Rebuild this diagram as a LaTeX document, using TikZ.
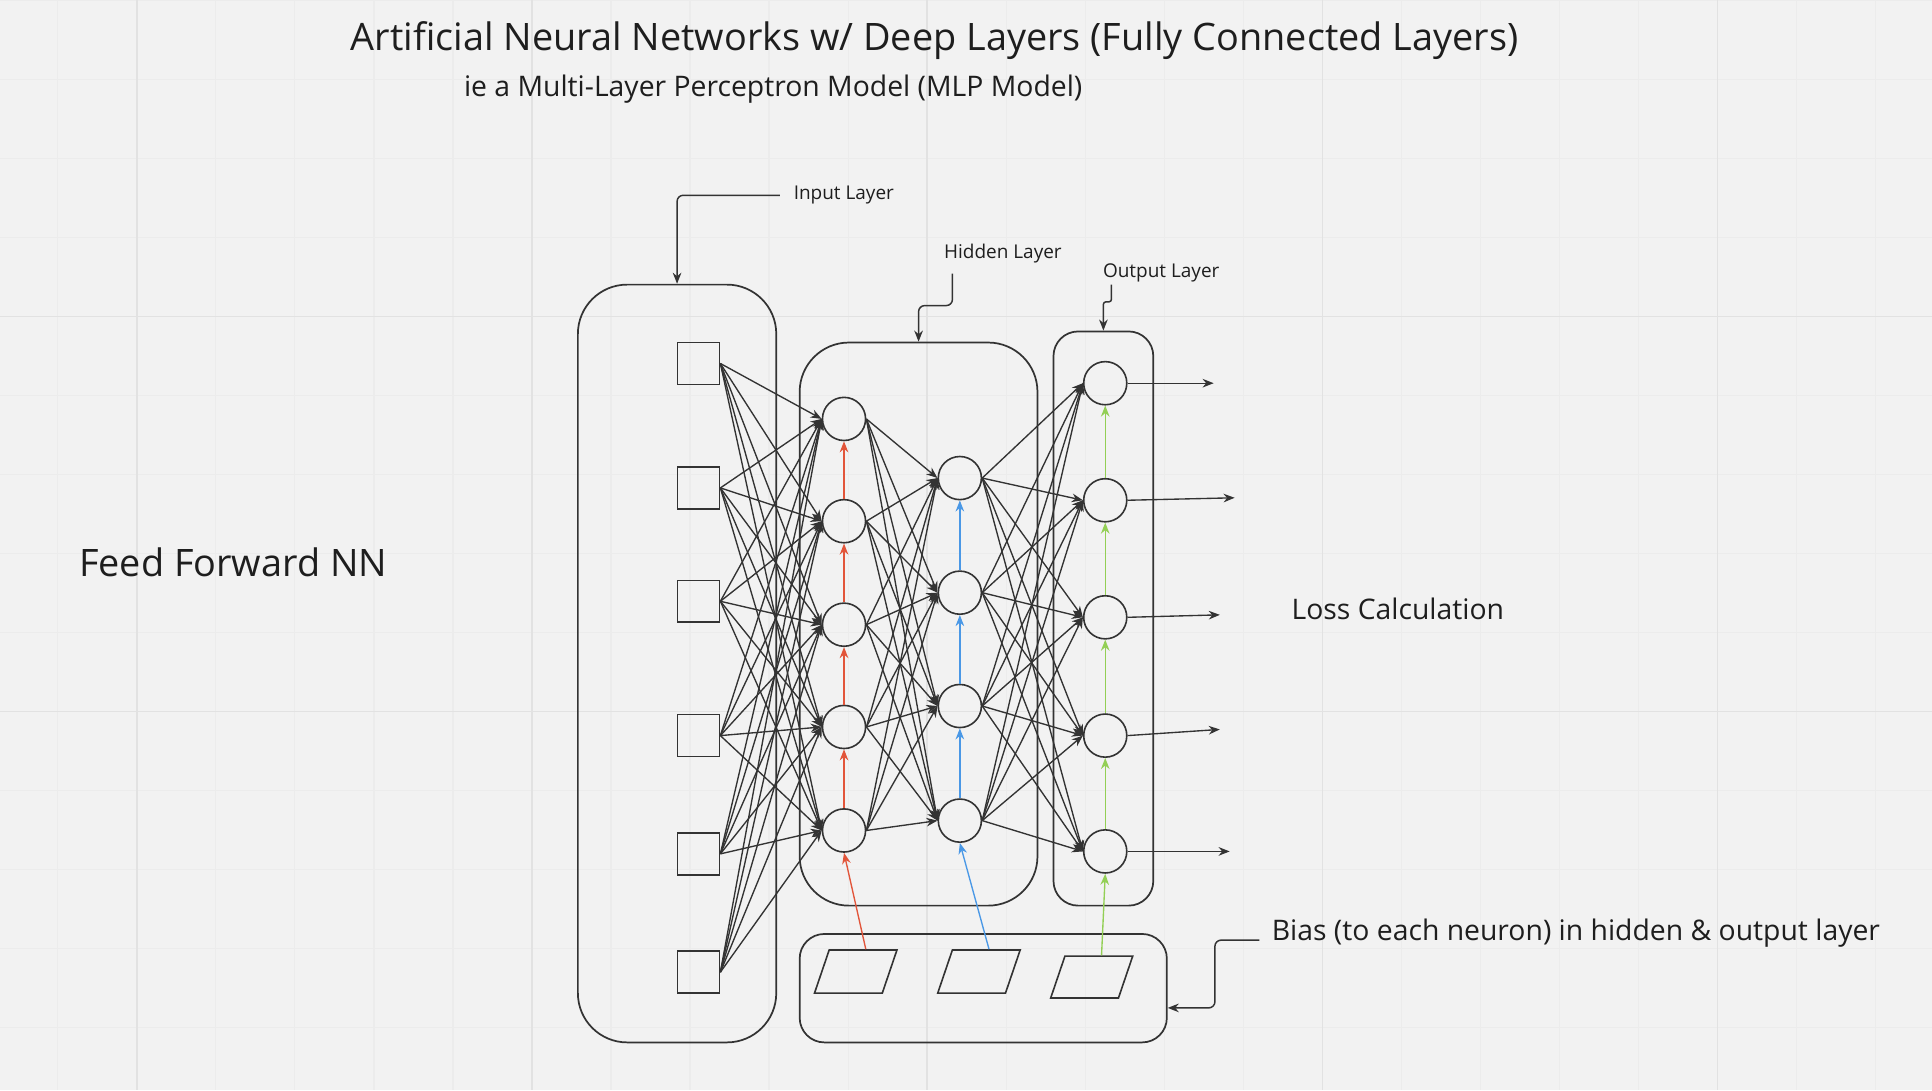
\documentclass[tikz,border=0pt]{standalone}
\usepackage{fontspec}
\setmainfont{Open Sans}
\usetikzlibrary{arrows.meta,calc}
\definecolor{bg}{HTML}{F2F2F2}
\definecolor{ink}{HTML}{333333}
\definecolor{txt}{HTML}{1E1E1E}
\definecolor{minorg}{HTML}{ECECEC}
\definecolor{majorg}{HTML}{E2E2E2}
\definecolor{bred}{HTML}{E2553A}
\definecolor{bblue}{HTML}{4A98E6}
\definecolor{bgreen}{HTML}{93CF55}
\tikzset{
  cont/.style={draw=ink, line width=1.4pt, inner sep=0pt},
  sq/.style={draw=ink, line width=1.3pt, minimum size=34pt, inner sep=0pt},
  neuron/.style={circle, draw=ink, line width=1.3pt, minimum size=35pt, inner sep=0pt},
  para/.style={draw=ink, line width=1.3pt, minimum width=55pt, minimum height=35pt, inner sep=0pt, xslant=0.34, transform shape},
  edge/.style={draw=ink, line width=1.1pt, -{Stealth[length=9pt,width=7pt]}},
  biasr/.style={draw=bred, line width=1.1pt, -{Stealth[length=9pt,width=7pt]}},
  biasb/.style={draw=bblue, line width=1.1pt, -{Stealth[length=9pt,width=7pt]}},
  biasg/.style={draw=bgreen, line width=1.1pt, -{Stealth[length=9pt,width=7pt]}},
  callout/.style={draw=ink, line width=1.2pt, rounded corners=5pt, -{Stealth[length=9pt,width=7pt]}},
  lbl/.style={text=txt, inner sep=0pt},
}
\begin{document}
\begin{tikzpicture}[x=1pt,y=-1pt]
\useasboundingbox (0,0) rectangle (1568,885);
\fill[bg] (0,0) rectangle (1568,885);
% grid
\foreach \k in {-1,...,23} {\draw[minorg, line width=1pt] ({111+64.15*\k},0) -- ({111+64.15*\k},885);}
\foreach \k in {-4,...,10} {\draw[minorg, line width=1pt] (0,{257+64.1*\k}) -- (1568,{257+64.1*\k});}
\foreach \k in {0,...,4} {\draw[majorg, line width=1.3pt] ({111+320.75*\k},0) -- ({111+320.75*\k},885);}
\foreach \k in {0,1} {\draw[majorg, line width=1.3pt] (0,{257+320.5*\k}) -- (1568,{257+320.5*\k});}

% texts
\node[lbl, font=\fontsize{30.7}{36}\selectfont] (title) at (758.5,33) {Artificial Neural Networks w/ Deep Layers (Fully Connected Layers)};
\node[lbl, font=\fontsize{23}{28}\selectfont] (sub) at (627.5,72.5) {ie a Multi-Layer Perceptron Model (MLP Model)};
\node[lbl, font=\fontsize{30.7}{36}\selectfont, anchor=west] (ffnn) at (64,456) {Feed Forward NN};
\node[lbl, font=\fontsize{23}{28}\selectfont, anchor=west] (loss) at (1048,494) {Loss Calculation};
\node[lbl, font=\fontsize{23}{28}\selectfont, anchor=west] (bias) at (1032,757) {Bias (to each neuron) in hidden \& output layer};
\node[lbl, font=\fontsize{15.4}{18}\selectfont, anchor=west] (inlbl) at (644,158.5) {Input Layer};
\node[lbl, font=\fontsize{15.4}{18}\selectfont, anchor=west] (hlbl) at (766,205.5) {Hidden Layer};
\node[lbl, font=\fontsize{15.4}{18}\selectfont, anchor=west] (olbl) at (895,221.5) {Output Layer};

% containers
\node[cont, minimum width=161pt, minimum height=615pt, rounded corners=40pt] (incont) at (549.5,538.5) {};
\node[cont, minimum width=193pt, minimum height=457pt, rounded corners=40pt] (hcont) at (745.5,506.5) {};
\node[cont, minimum width=81pt, minimum height=466pt, rounded corners=20pt] (ocont) at (895.5,502) {};
\node[cont, minimum width=298pt, minimum height=88pt, rounded corners=20pt] (bcont) at (798,802) {};

% callouts
\draw[callout] ([xshift=-11pt]inlbl.west) -| (incont.north);
\coordinate (hc) at (773,222);
\draw[callout] (hc) -- ++(0,26) -| (hcont.north);
\coordinate (oc) at (902,231);
\draw[callout, rounded corners=2pt] (oc) -- ++(0,14) -| (ocont.north);
\coordinate (bcend) at (986,818);
\draw[callout] ([xshift=-10pt,yshift=-6pt]bias.west) -| (bcend) -- (bcend -| bcont.east);

% neurons
\foreach \i/\y in {1/295,2/396,3/488,4/597,5/693,6/789} \node[sq] (i\i) at (567,\y) {};
\foreach \i/\y in {1/340,2/423,3/507,4/590,5/674} \node[neuron] (a\i) at (685,\y) {};
\foreach \i/\y in {1/388,2/481,3/573,4/666} \node[neuron] (b\i) at (779,\y) {};
\foreach \i/\y in {1/311,2/406,3/501,4/597,5/691} \node[neuron] (o\i) at (897,\y) {};

% bias parallelograms
\node[para] (p1) at (694.5,788.5) {};
\node[para] (p2) at (794.5,788.5) {};
\node[para, minimum height=34pt] (p3) at (886,793) {};

% fully connected edges
\foreach \i in {1,...,6} {\foreach \j in {1,...,5} {\draw[edge] (i\i.east) -- (a\j.west);}}
\foreach \i in {1,...,5} {\foreach \j in {1,...,4} {\draw[edge] (a\i.east) -- (b\j.west);}}
\foreach \i in {1,...,4} {\foreach \j in {1,...,5} {\draw[edge] (b\i.east) -- (o\j.west);}}

% outputs
\coordinate (e1) at (985,311);
\coordinate (e2) at (1002,404);
\coordinate (e3) at (990,499);
\coordinate (e4) at (990,592);
\coordinate (e5) at (998,691);
\foreach \i in {1,...,5} {\draw[edge] (o\i.east) -- (e\i);}

% bias arrows
\draw[biasr] ([xshift=2pt]p1.north) -- (a5.south);
\draw[biasb] ([xshift=2pt]p2.north) -- (b4.south);
\draw[biasg] ([xshift=2pt]p3.north) -- (o5.south);
\foreach \i/\j in {2/1,3/2,4/3,5/4} {\draw[biasr] (a\i.north) -- (a\j.south);}
\foreach \i/\j in {2/1,3/2,4/3} {\draw[biasb] (b\i.north) -- (b\j.south);}
\foreach \i/\j in {2/1,3/2,4/3,5/4} {\draw[biasg] (o\i.north) -- (o\j.south);}
\end{tikzpicture}
\end{document}
